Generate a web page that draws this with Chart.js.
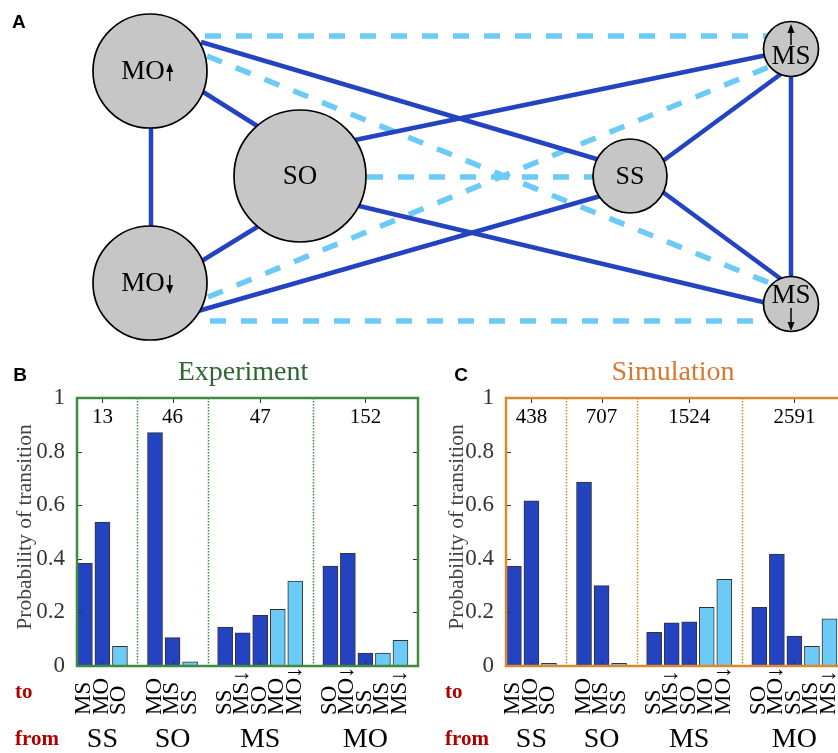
<!DOCTYPE html>
<html>
<head>
<meta charset="utf-8">
<script src="https://cdn.jsdelivr.net/npm/chart.js@4.4.1/dist/chart.umd.min.js"></script>
<style>
html, body { margin: 0; padding: 0; background: #fff; width: 838px; height: 753px; overflow: hidden; position: relative; }
.box { position: absolute; }
</style>
</head>
<body>
<div class="box" style="left:0;top:0;width:838px;height:350px"><canvas id="net"></canvas></div>
<div class="box" style="left:0;top:360px;width:420px;height:393px"><canvas id="exp"></canvas></div>
<div class="box" style="left:420px;top:360px;width:430px;height:393px"><canvas id="sim"></canvas></div>
<script>
// ---- data ----
const fromGroups = ['SS', 'SO', 'MS', 'MO'];
const groupSizes = [3, 3, 5, 5];
const toLabels = ['MS', 'MO', 'SO', 'MO', 'MS', 'SS', 'SS', 'MS↓', 'SO', 'MO', 'MO↓', 'SO', 'MO↓', 'SS', 'MS', 'MS↓'];
const crossing = [0, 0, 1, 0, 0, 1, 0, 0, 0, 1, 1, 0, 0, 0, 1, 1];
const expProb = [0.383, 0.537, 0.073, 0.871, 0.106, 0.016, 0.145, 0.124, 0.189, 0.211, 0.317, 0.373, 0.420, 0.048, 0.048, 0.096];
const simProb = [0.372, 0.616, 0.010, 0.686, 0.300, 0.010, 0.126, 0.161, 0.165, 0.219, 0.323, 0.219, 0.418, 0.112, 0.073, 0.176];
const expCounts = [13, 46, 47, 152];
const simCounts = [438, 707, 1524, 2591];
const yTicks = [0, 0.2, 0.4, 0.6, 0.8, 1];

// network nodes
const nodeNames = ['MO↑', 'MO↓', 'SO', 'SS', 'MS↑', 'MS↓'];
// layout of the diagram (canvas units)
const nodeX = [150, 150, 300, 630, 791, 791];
const nodeY = [71, 283, 176, 176, 49, 304];
const nodeR = [57, 57, 66, 37, 27.5, 27.5];
const solidEdges = [
  [[151, 125], [151, 230]],
  [[200, 90], [262, 129]],
  [[200, 262], [262, 224]],
  [[201, 42], [600, 160]],
  [[355, 140], [767, 55]],
  [[355, 205], [767, 303]],
  [[198, 311], [604, 195]],
  [[660, 163], [785, 71]],
  [[660, 190], [785, 282]],
  [[791, 70], [791, 282]]
];
const dashedEdges = [
  [[205, 36], [770, 36]],
  [[210, 321], [770, 321]],
  [[207, 56], [772, 284]],
  [[208, 297], [776, 64]],
  [[367, 177], [593, 177]]
];

const SERIF = '"Liberation Serif", "Times New Roman", serif';
const SANS = '"Liberation Sans", Arial, sans-serif';
const DARK = '#2443c1';
const LIGHT = '#6ccaf7';

// ---- panel A: network ----
const netDatasets = [{
  type: 'scatter',
  data: nodeX.map((x, i) => ({ x: x, y: nodeY[i] })),
  pointRadius: nodeR,
  pointHoverRadius: nodeR,
  backgroundColor: '#c6c6c6',
  borderColor: '#000',
  borderWidth: 1.7,
  clip: false,
  order: 0
}];
solidEdges.forEach(e => netDatasets.push({
  type: 'line',
  data: e.map(p => ({ x: p[0], y: p[1] })),
  borderColor: DARK, borderWidth: 4.5, pointRadius: 0, order: 1
}));
dashedEdges.forEach(e => netDatasets.push({
  type: 'line',
  data: e.map(p => ({ x: p[0], y: p[1] })),
  borderColor: LIGHT, borderWidth: 5.5, borderDash: [16, 15], pointRadius: 0, order: 2
}));

function arrow(ctx, x, y0, y1) {
  const dir = y1 > y0 ? 1 : -1;
  ctx.beginPath();
  ctx.moveTo(x, y0);
  ctx.lineTo(x, y1 - dir * 6);
  ctx.lineWidth = 1.5;
  ctx.strokeStyle = '#000';
  ctx.stroke();
  ctx.beginPath();
  ctx.moveTo(x, y1);
  ctx.lineTo(x - 3.5, y1 - dir * 9);
  ctx.lineTo(x + 3.5, y1 - dir * 9);
  ctx.closePath();
  ctx.fillStyle = '#000';
  ctx.fill();
}

const netLabels = {
  id: 'netLabels',
  afterDatasetsDraw(chart) {
    const ctx = chart.ctx, xs = chart.scales.x, ys = chart.scales.y;
    ctx.save();
    ctx.fillStyle = '#000';
    ctx.textAlign = 'center';
    ctx.textBaseline = 'middle';
    nodeNames.forEach((name, i) => {
      const px = xs.getPixelForValue(nodeX[i]);
      const py = ys.getPixelForValue(nodeY[i]);
      const base = name.replace(/[↑↓]/, '');
      const up = name.indexOf('↑') >= 0, down = name.indexOf('↓') >= 0;
      ctx.font = (base === 'SS' ? '26px ' : '27px ') + SERIF;
      if (base === 'MS') {
        const ty = py + (up ? 8 : -8);
        ctx.fillText(base, px, ty);
        if (up) arrow(ctx, px, ty - 12, ty - 33);
        else arrow(ctx, px, ty + 12, ty + 35);
      } else if (up || down) {
        const w = ctx.measureText(base).width;
        const tx = px - 7;
        ctx.fillText(base, tx, py + 1);
        const ax = tx + w / 2 + 5;
        if (up) arrow(ctx, ax, py + 10, py - 8);
        else arrow(ctx, ax, py - 8, py + 11);
      } else {
        ctx.fillText(base, px, py + 1);
      }
    });
    ctx.font = 'bold 19px ' + SANS;
    ctx.textAlign = 'left';
    ctx.fillText('A', 12, 23);
    ctx.restore();
  }
};

new Chart(document.getElementById('net'), {
  data: { datasets: netDatasets },
  options: {
    responsive: true, maintainAspectRatio: false, animation: false,
    layout: { padding: 0, autoPadding: false },
    plugins: { legend: { display: false }, tooltip: { enabled: false } },
    scales: {
      x: { type: 'linear', min: 0, max: 838, display: false },
      y: { type: 'linear', min: 0, max: 350, reverse: true, display: false }
    }
  },
  plugins: [netLabels]
});

// ---- panels B and C: bars ----
const slots = [], groupCenters = [], boundaries = [];
let s = 0;
groupSizes.forEach((n, g) => {
  const first = s;
  for (let i = 0; i < n; i++) slots.push(s++);
  groupCenters.push((first + s - 1) / 2);
  if (g < groupSizes.length - 1) boundaries.push(s);
  s++;
});

function makePanel(id, probs, counts, cfg) {
  const decor = {
    id: 'decor' + id,
    beforeDatasetsDraw(chart) {
      const ctx = chart.ctx, a = chart.chartArea, xs = chart.scales.x;
      ctx.save();
      ctx.strokeStyle = cfg.frame;
      ctx.lineWidth = 1.5;
      ctx.setLineDash([1.5, 1.5]);
      boundaries.forEach(b => {
        const px = Math.round(xs.getPixelForValue(b)) + 0.5;
        ctx.beginPath();
        ctx.moveTo(px, a.top);
        ctx.lineTo(px, a.bottom);
        ctx.stroke();
      });
      ctx.restore();
    },
    afterDraw(chart) {
      const ctx = chart.ctx, a = chart.chartArea, xs = chart.scales.x, ys = chart.scales.y;
      ctx.save();
      // inward tick marks
      ctx.strokeStyle = '#333';
      ctx.lineWidth = 1;
      yTicks.forEach(v => {
        const py = Math.round(ys.getPixelForValue(v)) + 0.5;
        ctx.beginPath();
        ctx.moveTo(a.left, py); ctx.lineTo(a.left + 5, py);
        ctx.moveTo(a.right, py); ctx.lineTo(a.right - 5, py);
        ctx.stroke();
      });
      groupCenters.forEach(c => {
        const px = Math.round(xs.getPixelForValue(c)) + 0.5;
        ctx.beginPath();
        ctx.moveTo(px, a.top); ctx.lineTo(px, a.top + 5);
        ctx.moveTo(px, a.bottom); ctx.lineTo(px, a.bottom - 5);
        ctx.stroke();
      });
      // frame
      ctx.strokeStyle = cfg.frame;
      ctx.lineWidth = 2.5;
      ctx.strokeRect(a.left, a.top, a.right - a.left, a.bottom - a.top);
      // counts
      ctx.fillStyle = '#000';
      ctx.textAlign = 'center';
      ctx.textBaseline = 'middle';
      ctx.font = '21px ' + SERIF;
      counts.forEach((c, g) => ctx.fillText(String(c), xs.getPixelForValue(groupCenters[g]), 57));
      // title
      ctx.fillStyle = cfg.titleColor;
      ctx.font = '28px ' + SERIF;
      ctx.fillText(cfg.title, cfg.titleX, 13);
      // panel letter
      ctx.fillStyle = '#000';
      ctx.font = 'bold 19px ' + SANS;
      ctx.fillText(cfg.letter, cfg.letterX, 16);
      // y axis title
      ctx.save();
      ctx.translate(cfg.yTitleX, 167);
      ctx.rotate(-Math.PI / 2);
      ctx.fillStyle = '#444';
      ctx.font = '21.5px ' + SERIF;
      ctx.fillText('Probability of transition', 0, 0);
      ctx.restore();
      // rotated "to" labels
      ctx.fillStyle = '#000';
      ctx.font = '23px ' + SERIF;
      ctx.textAlign = 'left';
      ctx.textBaseline = 'alphabetic';
      toLabels.forEach((lab, i) => {
        ctx.save();
        ctx.translate(xs.getPixelForValue(slots[i]) + 5.5, 355);
        ctx.rotate(-Math.PI / 2);
        ctx.fillText(lab, 0, 0);
        ctx.restore();
      });
      // group labels
      ctx.textAlign = 'center';
      ctx.textBaseline = 'middle';
      ctx.font = '28px ' + SERIF;
      fromGroups.forEach((g, k) => ctx.fillText(g, xs.getPixelForValue(groupCenters[k]), 380));
      // row labels
      ctx.fillStyle = '#b00000';
      ctx.font = 'bold 21px ' + SERIF;
      ctx.textAlign = 'left';
      ctx.fillText('to', cfg.rowX, 333);
      ctx.fillText('from', cfg.rowX, 380);
      ctx.restore();
    }
  };

  return new Chart(document.getElementById(id), {
    type: 'bar',
    data: {
      datasets: [{
        data: slots.map((x, i) => ({ x: x, y: probs[i] })),
        backgroundColor: crossing.map(c => c ? LIGHT : DARK),
        borderColor: '#333',
        borderWidth: 1,
        barThickness: 15
      }]
    },
    options: {
      responsive: true, maintainAspectRatio: false, animation: false,
      layout: { padding: { top: 38, bottom: 87, left: 0, right: cfg.padRight }, autoPadding: false },
      plugins: { legend: { display: false }, tooltip: { enabled: false } },
      scales: {
        x: { type: 'linear', min: -0.45, max: 19, offset: false, display: false },
        y: {
          min: 0, max: 1,
          afterFit(scale) { scale.width = cfg.axisWidth; },
          afterBuildTicks(scale) { scale.ticks = yTicks.map(v => ({ value: v })); },
          grid: { display: false, drawTicks: false },
          border: { display: false },
          ticks: {
            padding: 12,
            color: '#333',
            font: { family: SERIF, size: 23 },
            callback: v => String(v)
          }
        }
      }
    },
    plugins: [decor]
  });
}

makePanel('exp', expProb, expCounts, {
  frame: '#3f8a3f', titleColor: '#2f6632', title: 'Experiment', titleX: 243,
  letter: 'B', letterX: 20, yTitleX: 25, rowX: 15, axisWidth: 77, padRight: 2
});
makePanel('sim', simProb, simCounts, {
  frame: '#d98a2a', titleColor: '#d9772f', title: 'Simulation', titleX: 253,
  letter: 'C', letterX: 41, yTitleX: 37, rowX: 25, axisWidth: 86, padRight: 3
});
</script>
</body>
</html>
